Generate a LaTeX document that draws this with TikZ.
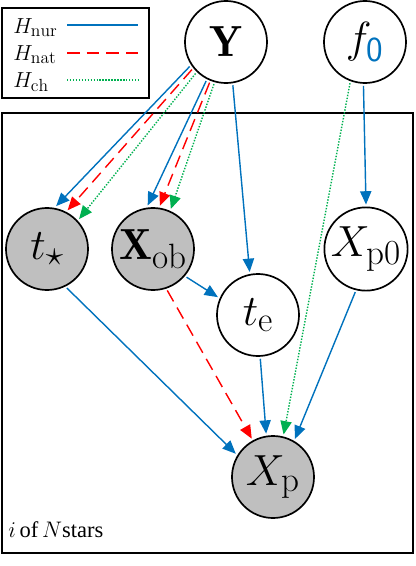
\RequirePackage{fix-cm}
\documentclass[tikz,border=0pt]{standalone}
\usepackage{fontspec}
\newfontfamily\timesfont{Liberation Serif}
\usetikzlibrary{arrows.meta}
\definecolor{nurblue}{RGB}{0,114,189}
\definecolor{natred}{RGB}{255,0,0}
\definecolor{chgreen}{RGB}{0,176,80}
\DeclareMathSizes{31}{31}{25}{20}
\DeclareMathSizes{15.5}{15.5}{12.5}{10}
\DeclareMathSizes{16}{16}{12}{9}
\begin{document}
\begin{tikzpicture}[x=0.025cm,y=-0.025cm,
    var/.style={circle,draw,line width=1.2pt,minimum size=2.05cm,inner sep=0pt,outer sep=2pt,
      font=\fontsize{31}{36}\selectfont},
    obs/.style={var,fill=black!25},
    nur/.style={nurblue,line width=1pt,-{Triangle[length=9.5pt,width=8pt]}},
    nat/.style={nur,natred,dash pattern=on 9pt off 5pt},
    ch/.style={nur,chgreen,dash pattern=on 1pt off 1.1pt},
    legtext/.style={anchor=base west,inner sep=0pt,font=\fontsize{15.5}{18}\selectfont}]
    \useasboundingbox (0,0) rectangle (415,566);
    % plate over the stars
    \draw[line width=1.8pt] (2,113) rectangle (413,553);
    \node[anchor=base west,inner sep=0pt,font=\fontsize{16}{19}\selectfont] (plate) at (8,537)
      {$i$\,{\timesfont of}\,$N${\timesfont stars}};
    % legend
    \draw[line width=1.5pt,fill=white] (2,8) rectangle (149,98);
    \node[legtext] (lnur) at (13,33) {$H_{\mathrm{nur}}$};
    \node[legtext] (lnat) at (13,60) {$H_{\mathrm{nat}}$};
    \node[legtext] (lch) at (13,87) {$H_{\mathrm{ch}}$};
    \draw[nur,-] (67,25) -- (138,25);
    \draw[nat,-] (67,53) -- (138,53);
    \draw[ch,-] (67,80) -- (138,80);
    % variables
    \node[var] (Y) at (226,42) {$\mathbf{Y}$};
    \node[var] (f0) at (365,42) {$f_{\textcolor{nurblue}{\mathsf{0}}}$};
    \node[obs] (ts) at (47,249) {$t_\star$};
    \node[obs] (xob) at (153,249) {$\mathbf{X}_{\mathrm{ob}}$};
    \node[var] (xp0) at (366,249) {$X_{\mathrm{p0}}$};
    \node[var] (te) at (258,315) {$t_{\mathrm{e}}$};
    \node[obs] (xp) at (273,477) {$X_{\mathrm{p}}$};
    % edges from Y
    \draw[nur] (Y.214) -- (ts.78);
    \draw[nat] (Y.219) -- (ts.62);
    \draw[ch] (Y.226) -- (ts.43);
    \draw[nur] (Y.243) -- (xob.97);
    \draw[nat] (Y.248) -- (xob.81);
    \draw[ch] (Y.254) -- (xob.66);
    \draw[nur] (Y.279) -- (te.101);
    % edges from f_0
    \draw[ch] (f0.250) -- (xp.76);
    \draw[nur] (f0.268) -- (xp0.90);
    % edges into X_p
    \draw[nur] (ts.297) -- (xp.148);
    \draw[nur] (xob.320) -- (te.156);
    \draw[nat] (xob.289) -- (xp.119);
    \draw[nur] (te.273) -- (xp.99);
    \draw[nur] (xp0.256) -- (xp.60);
\end{tikzpicture}
\end{document}
